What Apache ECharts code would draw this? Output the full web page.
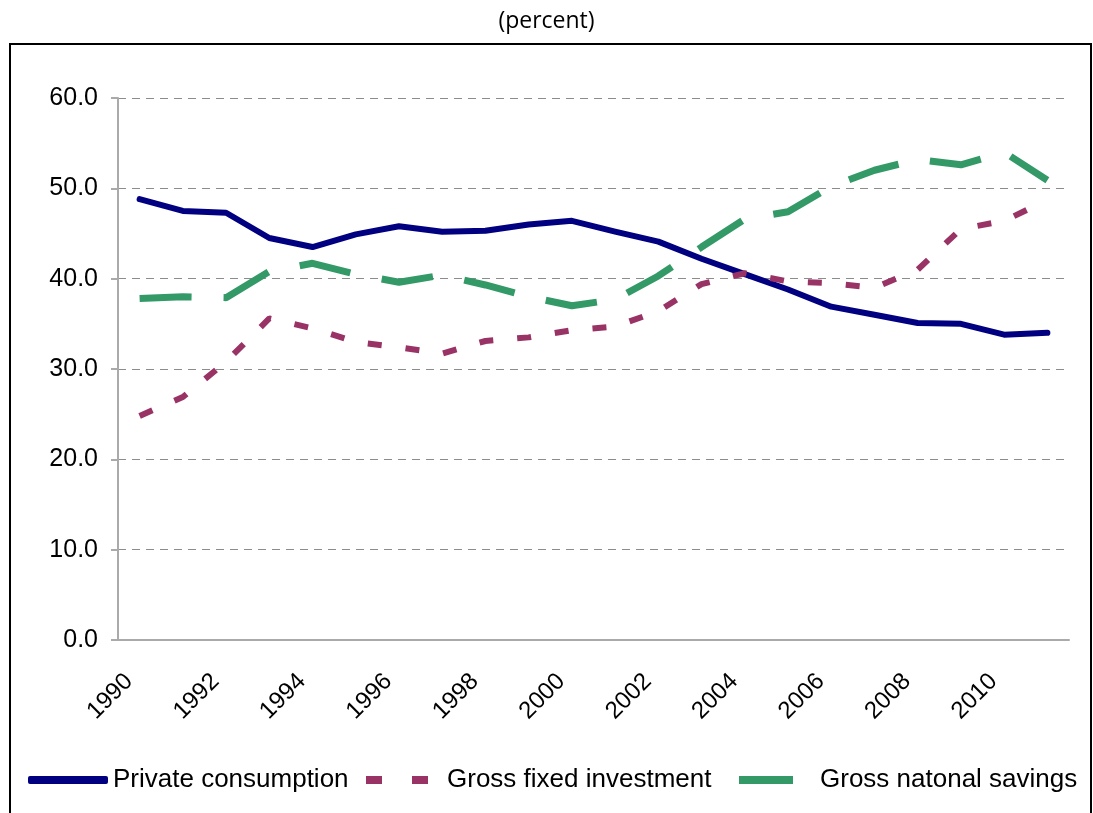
<!DOCTYPE html>
<html>
<head>
<meta charset="utf-8">
<script src="https://cdn.jsdelivr.net/npm/echarts@6/dist/echarts.min.js"></script>
<style>
  html, body { margin: 0; padding: 0; background: #fff; }
  #main { width: 1093px; height: 813px; }
</style>
</head>
<body>
<div id="main"></div>
<script>
const years = ["1990", "1991", "1992", "1993", "1994", "1995", "1996", "1997", "1998", "1999", "2000",
  "2001", "2002", "2003", "2004", "2005", "2006", "2007", "2008", "2009", "2010", "2011"];

// values (percent)
const privateConsumption = [48.8, 47.5, 47.3, 44.5, 43.5, 44.9, 45.8, 45.2, 45.3, 46.0, 46.4,
  45.2, 44.1, 42.2, 40.5, 38.8, 36.9, 36.0, 35.1, 35.0, 33.8, 34.0];
const grossFixedInvestment = [24.8, 26.9, 30.8, 35.6, 34.5, 33.0, 32.4, 31.7, 33.1, 33.5, 34.3,
  34.7, 36.4, 39.4, 40.6, 39.7, 39.5, 39.0, 41.0, 45.5, 46.4, 48.7];
const grossNationalSavings = [37.8, 38.0, 37.9, 40.8, 41.7, 40.5, 39.6, 40.4, 39.3, 38.0, 37.0,
  37.7, 40.3, 43.5, 46.6, 47.4, 50.2, 52.0, 53.2, 52.6, 54.0, 50.9];

const myChart = echarts.init(document.getElementById("main"), null, { renderer: "canvas" });

const axisGray = "#aaaaaa";
const font = "Liberation Sans, Arial, sans-serif";
const legendText = { fontFamily: font, fontSize: 26, color: "#000" };

const option = {
  animation: false,
  backgroundColor: "#fff",
  title: {
    text: "(percent)",
    left: "center",
    top: 5,
    textStyle: { fontFamily: "Open Sans, sans-serif", fontSize: 23, fontWeight: "normal", color: "#000" },
  },
  graphic: [
    {
      type: "rect",
      shape: { x: 10, y: 44, width: 1081, height: 800 },
      style: { fill: "none", stroke: "#000", lineWidth: 2 },
      silent: true,
    },
  ],
  // 图例 (one per item so each icon can be placed like the reference)
  legend: [
    {
      top: 767,
      left: 28,
      padding: 0,
      itemWidth: 80,
      itemHeight: 8,
      icon: "roundRect",
      textStyle: legendText,
      data: ["Private consumption"],
    },
    {
      top: 767,
      left: 366,
      padding: 0,
      itemWidth: 62,
      itemHeight: 8,
      icon: "path://M0,0h16v8h-16z M46,0h16v8h-16z",
      textStyle: Object.assign({ padding: [0, 0, 0, 14] }, legendText),
      data: ["Gross fixed investment"],
    },
    {
      top: 767,
      left: 739,
      padding: 0,
      itemWidth: 54,
      itemHeight: 8,
      icon: "rect",
      textStyle: Object.assign({ padding: [0, 0, 0, 22] }, legendText),
      data: ["Gross natonal savings"],
    },
  ],
  grid: {
    left: 118,
    right: 24,
    top: 98,
    bottom: 173,
  },
  xAxis: {
    type: "category",
    data: years,
    boundaryGap: true,
    axisLine: { lineStyle: { color: axisGray, width: 2 } },
    axisTick: { interval: 0, length: 7, lineStyle: { color: axisGray, width: 2 } },
    axisLabel: {
      interval: 1,
      rotate: 45,
      margin: 27,
      padding: [0, 15, 0, 0],
      fontFamily: font,
      fontSize: 24,
      color: "#000",
    },
    splitLine: { show: false },
  },
  yAxis: {
    type: "value",
    min: 0,
    max: 60,
    interval: 10,
    axisLine: { show: true, lineStyle: { color: axisGray, width: 2 } },
    axisTick: { show: true, length: 7, lineStyle: { color: axisGray, width: 2 } },
    axisLabel: {
      margin: 20,
      fontFamily: font,
      fontSize: 25,
      color: "#000",
      formatter: (v) => v.toFixed(1),
    },
    splitLine: { lineStyle: { color: "#8c8c8c", type: [8, 6], width: 1 } },
  },
  series: [
    {
      name: "Private consumption",
      type: "line",
      data: privateConsumption,
      symbol: "none",
      color: "#000080",
      lineStyle: { color: "#000080", width: 6, cap: "round", join: "round" },
    },
    {
      name: "Gross fixed investment",
      type: "line",
      data: grossFixedInvestment,
      symbol: "none",
      color: "#993366",
      lineStyle: { color: "#993366", width: 6, type: [14, 24] },
    },
    {
      name: "Gross natonal savings",
      type: "line",
      data: grossNationalSavings,
      symbol: "none",
      color: "#339966",
      lineStyle: { color: "#339966", width: 7, type: [52, 32] },
    },
  ],
};

option && myChart.setOption(option);
</script>
</body>
</html>
